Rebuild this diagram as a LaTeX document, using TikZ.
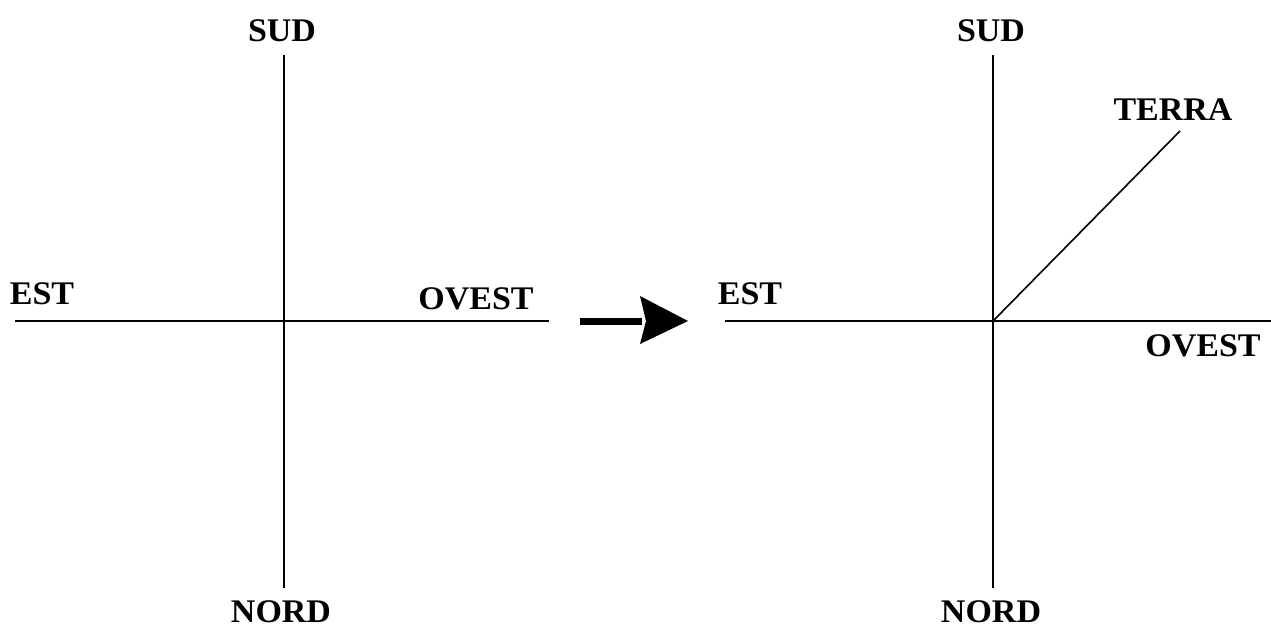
\documentclass[tikz,border=0pt]{standalone}
\usepackage{fontspec}
\setmainfont{Liberation Serif}
\begin{document}
\begin{tikzpicture}[x=1pt,y=-1pt,
  lab/.style={font=\fontsize{33}{33}\selectfont\bfseries, inner sep=0pt, xscale=1.03},
  axis/.style={line width=1.6pt, black}]
\useasboundingbox (0,0) rectangle (1271,633);
% left cross
\coordinate (ls) at (284,55);
\coordinate (ln) at (284,588);
\coordinate (le) at (15,321);
\coordinate (lw) at (549,321);
\draw[axis] (ls) -- (ln);
\draw[axis] (le) -- (lw);
\node[lab] (lsud) at (282,31) {SUD};
\node[lab] (lnord) at (281,612) {NORD};
\node[lab] (lest) at (42,294) {EST};
\node[lab] (lovest) at (476,299) {OVEST};
% arrow
\coordinate (a1) at (580,321);
\coordinate (a2) at (642,321);
\coordinate (atip) at (688,321);
\draw[line width=7pt] (a1) -- (a2);
\fill (atip) -- (640,296) -- (646,321) -- (640,344) -- cycle;
% right cross
\coordinate (rs) at (993,55);
\coordinate (rn) at (993,588);
\coordinate (re) at (725,321);
\coordinate (rw) at (1271,321);
\coordinate (o) at (993,321);
\coordinate (t) at (1180,131);
\draw[axis] (rs) -- (rn);
\draw[axis] (re) -- (rw);
\draw[axis] (o) -- (t);
\node[lab] (rsud) at (991,31) {SUD};
\node[lab] (rnord) at (991,612) {NORD};
\node[lab] (rest) at (750,294) {EST};
\node[lab] (rovest) at (1203,346) {OVEST};
\node[lab] (terra) at (1173,110) {TERRA};
\end{tikzpicture}
\end{document}
